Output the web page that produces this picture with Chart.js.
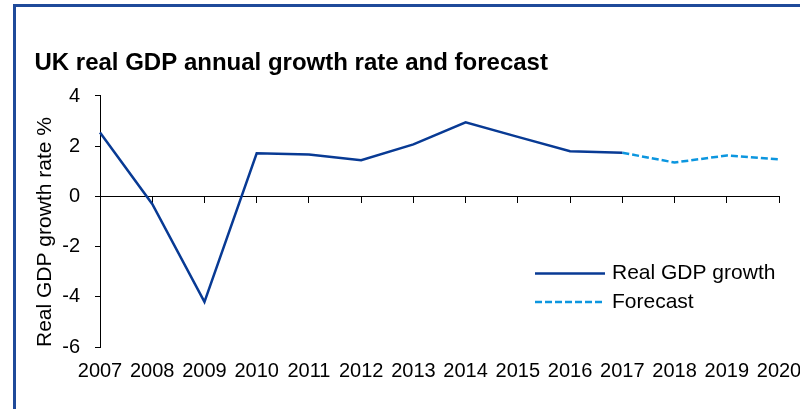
<!DOCTYPE html>
<html>
<head>
<meta charset="utf-8">
<title>UK real GDP annual growth rate and forecast</title>
<script src="https://cdn.jsdelivr.net/npm/chart.js@4/dist/chart.umd.min.js"></script>
<style>
  html, body { margin: 0; padding: 0; background: #ffffff; overflow: hidden; }
  #wrap { position: relative; width: 800px; height: 409px; overflow: hidden; }
  #frame {
    position: absolute; left: 13px; top: 4px; width: 900px; height: 500px;
    border-left: 3px solid #1F4A9A; border-top: 3px solid #1F4A9A;
    pointer-events: none;
  }
  canvas { position: absolute; left: 0; top: 0; }
</style>
</head>
<body>
<div id="wrap">
  <canvas id="chart" width="800" height="409"></canvas>
  <div id="frame"></div>
</div>
<script>
// Years on the category axis
const years = ['2007', '2008', '2009', '2010', '2011', '2012', '2013',
               '2014', '2015', '2016', '2017', '2018', '2019', '2020'];

// Outturn growth, % per year
const realGrowth = [2.55, -0.3, -4.2, 1.72, 1.67, 1.44, 2.07,
                    2.95, 2.37, 1.8, 1.74, null, null, null];

// Forecast growth, joined to the last outturn year
const forecastGrowth = [null, null, null, null, null, null, null,
                        null, null, null, 1.74, 1.35, 1.63, 1.48];

// Value-axis tick labels
const yTicks = [-6, -4, -2, 0, 2, 4];

const FONT = '"Liberation Sans", Arial, Helvetica, sans-serif';
const DARK_BLUE = '#083A94';
const LIGHT_BLUE = '#0C96DF';

// Draws the legend inside the plot, using each dataset's own line style
const insideLegend = {
  id: 'insideLegend',
  afterDraw(chart, args, opts) {
    const ctx = chart.ctx;
    const area = chart.chartArea;
    ctx.save();
    ctx.font = opts.fontSize + 'px ' + FONT;
    ctx.textBaseline = 'middle';
    ctx.textAlign = 'left';
    chart.data.datasets.forEach((ds, i) => {
      const y = area.top + opts.top + i * opts.rowGap;
      const x0 = area.left + opts.left;
      ctx.beginPath();
      ctx.strokeStyle = ds.borderColor;
      ctx.lineWidth = ds.borderWidth;
      ctx.setLineDash(ds.borderDash || []);
      ctx.moveTo(x0, y);
      ctx.lineTo(x0 + opts.sampleWidth, y);
      ctx.stroke();
      ctx.setLineDash([]);
      ctx.fillStyle = '#000000';
      ctx.fillText(ds.label, x0 + opts.sampleWidth + opts.textGap, y);
    });
    ctx.restore();
  }
};

new Chart(document.getElementById('chart'), {
  type: 'line',
  data: {
    labels: years,
    datasets: [
      {
        label: 'Real GDP growth',
        data: realGrowth,
        borderColor: DARK_BLUE,
        borderWidth: 2.5,
        pointRadius: 0,
        tension: 0,
        spanGaps: false
      },
      {
        label: 'Forecast',
        data: forecastGrowth,
        borderColor: LIGHT_BLUE,
        borderWidth: 2.5,
        borderDash: [7, 3],
        pointRadius: 0,
        tension: 0,
        spanGaps: false
      }
    ]
  },
  options: {
    responsive: false,
    animation: false,
    events: [],
    layout: { padding: { left: 34.5, right: 21, top: 0, bottom: 14 } },
    plugins: {
      legend: { display: false },
      tooltip: { enabled: false },
      title: {
        display: true,
        text: 'UK real GDP annual growth rate and forecast',
        align: 'start',
        color: '#000000',
        font: { family: FONT, size: 24, weight: 'bold', lineHeight: 1.2 },
        padding: { top: 48.8, bottom: 18.4 }
      },
      insideLegend: {
        left: 435, top: 177.5, rowGap: 28.5,
        sampleWidth: 70, textGap: 7, fontSize: 21
      }
    },
    scales: {
      // Zero line with year tick marks hanging below it
      x: {
        type: 'category',
        position: { y: 0 },
        offset: false,
        grid: { display: true, drawOnChartArea: false, drawTicks: true, tickLength: 6, color: '#000000', lineWidth: 1 },
        border: { display: true, color: '#000000', width: 1 },
        ticks: { display: false }
      },
      // Year labels along the bottom of the plot
      x2: {
        type: 'category',
        position: 'bottom',
        offset: false,
        grid: { display: false, drawTicks: false },
        border: { display: false },
        ticks: {
          color: '#000000', padding: 12, autoSkip: false, maxRotation: 0,
          font: { family: FONT, size: 20, lineHeight: 1.2 }
        },
        afterFit(scale) { scale.paddingLeft = 0; scale.paddingRight = 0; }
      },
      y: {
        min: -6, max: 4,
        grid: { display: true, drawOnChartArea: false, drawTicks: true, tickLength: 5, color: '#000000', lineWidth: 1 },
        border: { display: true, color: '#000000', width: 1 },
        afterBuildTicks(scale) { scale.ticks = yTicks.map(v => ({ value: v })); },
        ticks: {
          color: '#000000', padding: 15,
          font: { family: FONT, size: 20, lineHeight: 1.2 },
          callback: (v) => String(v)
        },
        title: {
          display: true,
          text: 'Real GDP growth rate %',
          align: 'start',
          color: '#000000',
          font: { family: FONT, size: 21, lineHeight: 1 },
          padding: { top: 0, bottom: 0 }
        },
        afterFit(scale) { scale.width = 65.5; }
      }
    }
  },
  plugins: [insideLegend]
});
</script>
</body>
</html>
